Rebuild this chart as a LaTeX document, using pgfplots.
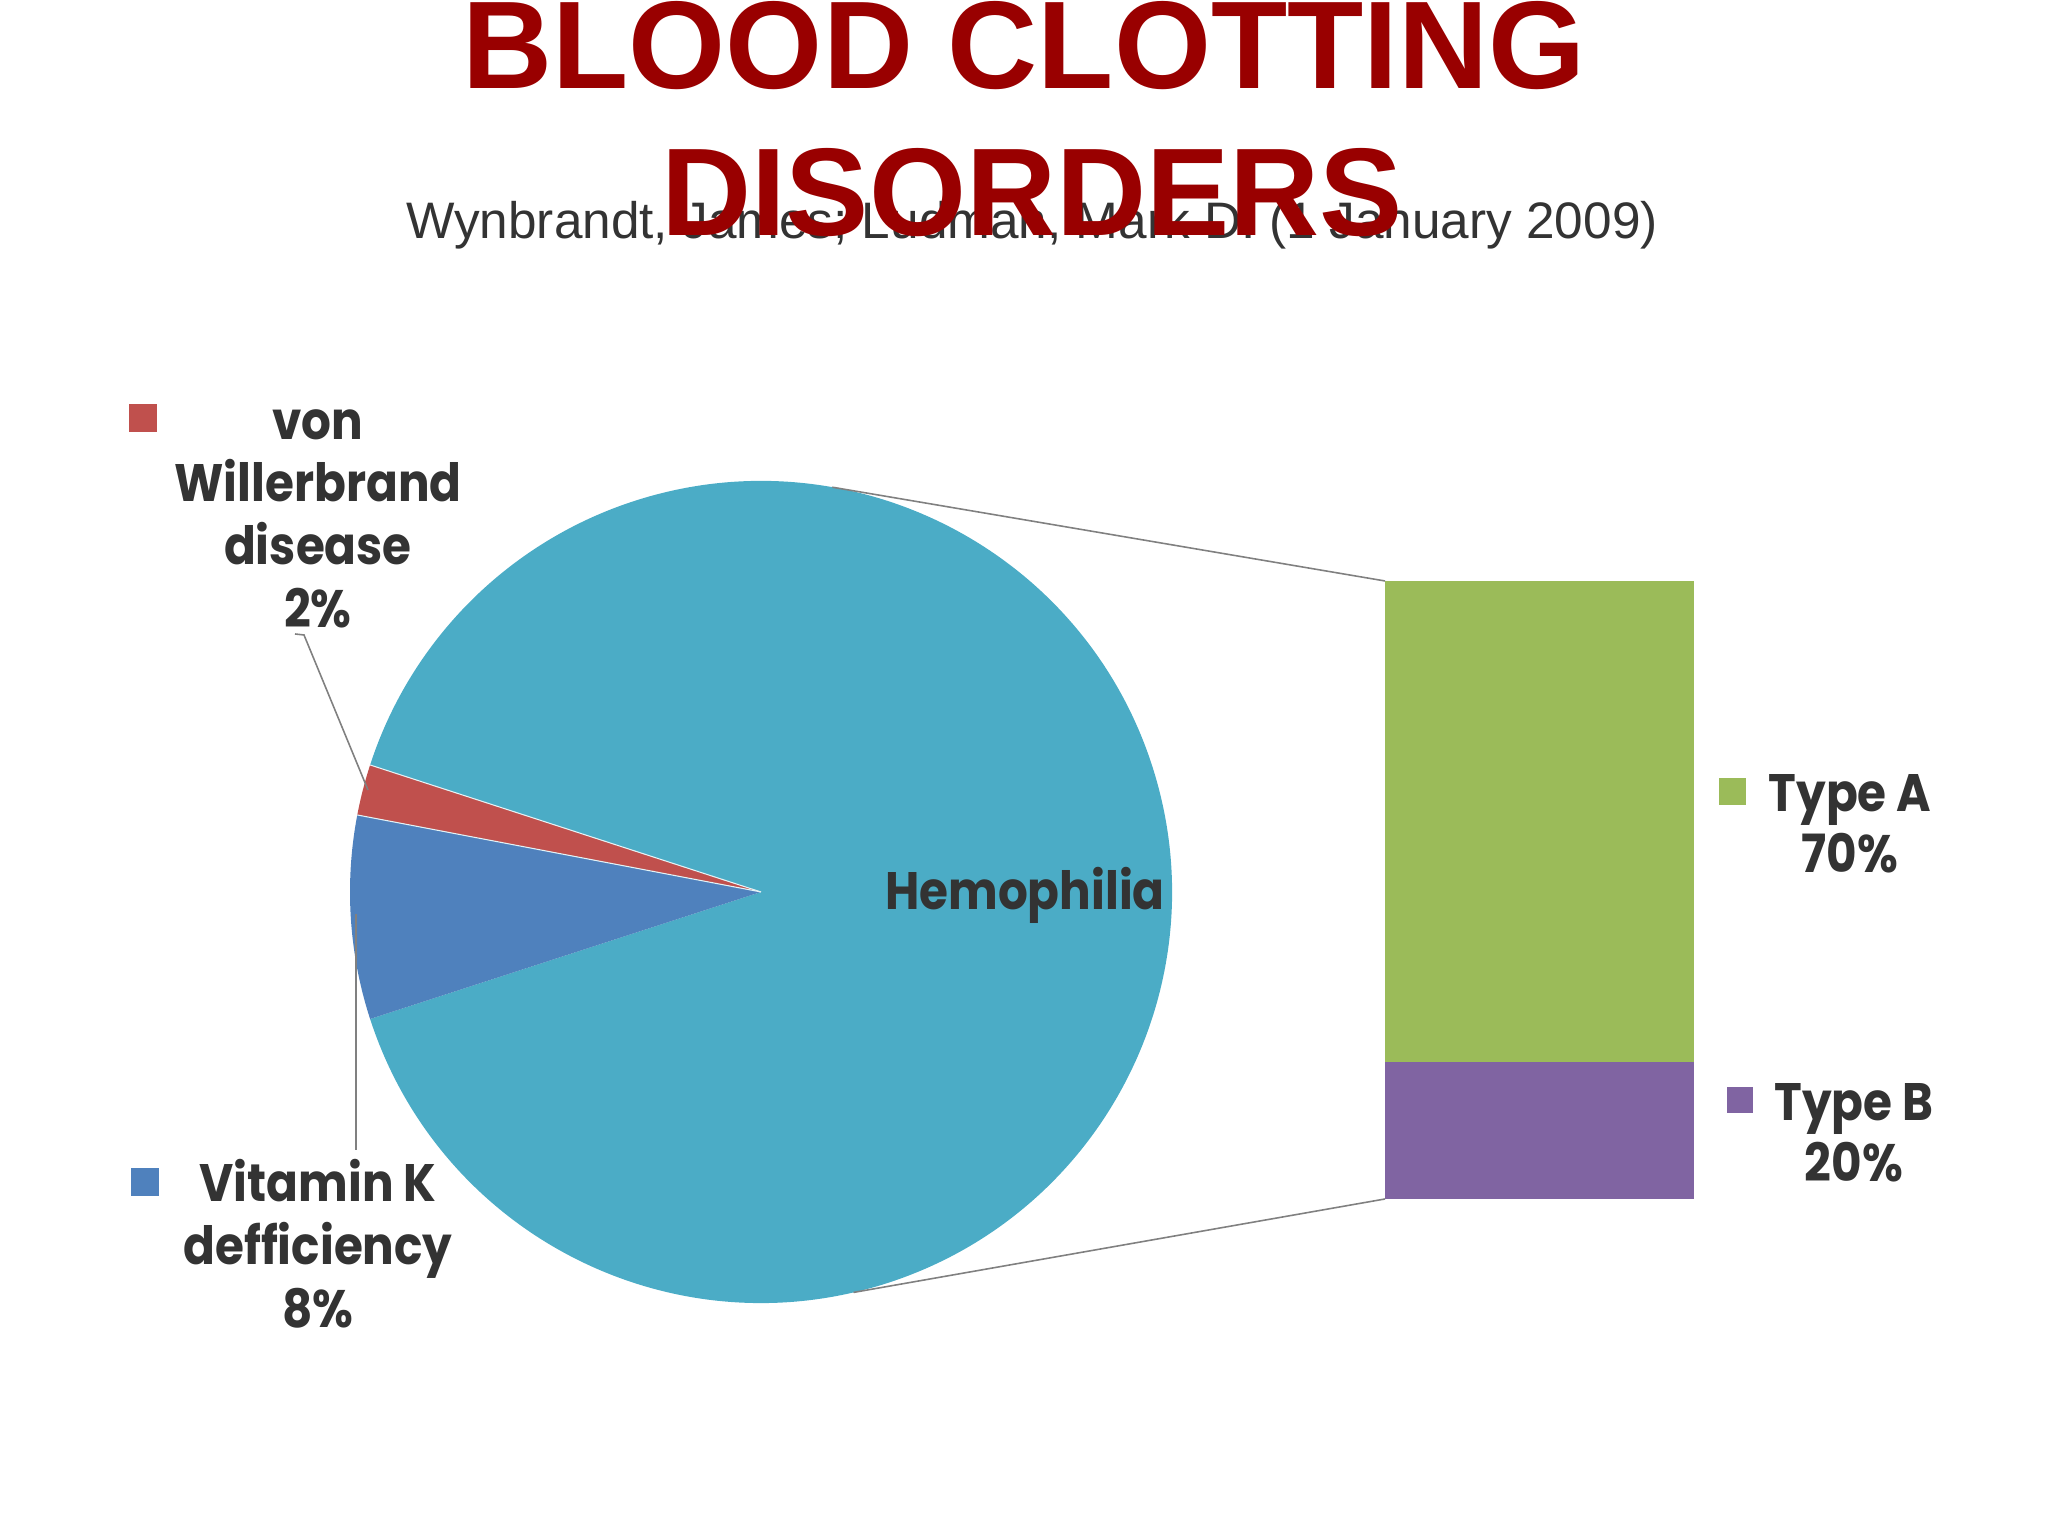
\documentclass[border=0pt]{standalone}
\usepackage{fontspec}
\setmainfont{Poppins}
\newfontfamily\arial{Liberation Sans}
\usepackage{pgfplots}
\usepackage{pgfplotstable}
\pgfplotsset{compat=1.18}

\definecolor{hemo}{HTML}{4BACC6}
\definecolor{vwd}{HTML}{C0504D}
\definecolor{vitk}{HTML}{4F81BD}
\definecolor{typea}{HTML}{9BBB59}
\definecolor{typeb}{HTML}{8064A2}
\definecolor{titlered}{HTML}{990000}
\definecolor{txt}{HTML}{333333}
\definecolor{leader}{HTML}{808080}

% share of all clotting disorders, percent
\pgfplotstableread{
name       value
Hemophilia 90
vWD        2
VitK       8
}\piedata

\pgfplotstablegetelem{0}{value}\of\piedata \let\vHemo\pgfplotsretval
\pgfplotstablegetelem{1}{value}\of\piedata \let\vVwd\pgfplotsretval
\pgfplotstablegetelem{2}{value}\of\piedata \let\vVitk\pgfplotsretval
% hemophilia slice is centred on the right, the others follow counter-clockwise
\pgfmathsetmacro\aA{-\vHemo*3.6/2}
\pgfmathsetmacro\aB{\vHemo*3.6/2}
\pgfmathsetmacro\aC{\aB+\vVwd*3.6}
\pgfmathsetmacro\aD{\aC+\vVitk*3.6}

\tikzset{lab/.style={text=txt,font=\bfseries\fontsize{15}{18}\selectfont\addfontfeature{FakeStretch=0.89},anchor=base,inner sep=0pt}}

\begin{document}
\begin{tikzpicture}
\useasboundingbox (0,0) rectangle (20.48cm,15.36cm);
\begin{axis}[
  at={(0,0)}, anchor=south west,
  width=20.48cm, height=15.36cm, scale only axis,
  xmin=0, xmax=2048, ymin=0, ymax=1536,
  hide axis, clip=false,
]
% pie, centre (761,644), radius 411 units = 4.11cm
\fill[hemo] (axis cs:761,644) -- ++(\aA:4.11cm) arc[start angle=\aA, end angle=\aB, radius=4.11cm] -- cycle;
\fill[vwd]  (axis cs:761,644) -- ++(\aB:4.11cm) arc[start angle=\aB, end angle=\aC, radius=4.11cm] -- cycle;
\fill[vitk] (axis cs:761,644) -- ++(\aC:4.11cm) arc[start angle=\aC, end angle=\aD, radius=4.11cm] -- cycle;
\draw[white!85!hemo, line width=0.3pt] (axis cs:761,644) -- ++(\aB:4.11cm);
\draw[white!85!hemo, line width=0.3pt] (axis cs:761,644) -- ++(\aC:4.11cm);

% connector lines to the bar
\draw[leader, line width=0.45pt] (axis cs:761,644) ++(80:4.11cm) -- (axis cs:1385,955);
\draw[leader, line width=0.45pt] (axis cs:761,644) ++(-77:4.11cm) -- (axis cs:1385,337);

% leader lines
\draw[leader, line width=0.45pt] (axis cs:295,902) -- (axis cs:304,901) -- (axis cs:368,746);
\draw[leader, line width=0.45pt] (axis cs:356,622) -- (axis cs:356,386);

% title and source
\node[anchor=base, inner sep=0pt, text=txt, font=\arial\fontsize{14.6}{18}\selectfont]
  at (axis cs:1032,1297) {Wynbrandt, James; Ludman, Mark D. (1 January 2009)};
\node[anchor=base, inner sep=0pt, text=titlered, font=\arial\bfseries\fontsize{35.5}{44}\selectfont]
  at (axis cs:1024,1447) {BLOOD CLOTTING};
\node[anchor=base, inner sep=0pt, text=titlered, font=\arial\bfseries\fontsize{35.5}{44}\selectfont]
  at (axis cs:1032,1300) {DISORDERS};

% labels
\node[lab] at (axis cs:1025,626) {Hemophilia};

\fill[vwd] (axis cs:129,1132) rectangle (axis cs:157,1104);
\node[lab] at (axis cs:318,1096) {von};
\node[lab] at (axis cs:318,1034) {Willerbrand};
\node[lab] at (axis cs:318,971) {disease};
\node[lab] at (axis cs:318,908) {2\%};

\fill[vitk] (axis cs:131,368) rectangle (axis cs:159,340);
\node[lab] at (axis cs:318,334) {Vitamin K};
\node[lab] at (axis cs:318,271) {defficiency};
\node[lab] at (axis cs:318,208) {8\%};

\fill[typea] (axis cs:1719,758) rectangle (axis cs:1746,731);
\node[lab] at (axis cs:1850,724) {Type A};
\node[lab] at (axis cs:1850,663) {70\%};

\fill[typeb] (axis cs:1727,449) rectangle (axis cs:1753,423);
\node[lab] at (axis cs:1854,415) {Type B};
\node[lab] at (axis cs:1854,354) {20\%};
\end{axis}

% split of the hemophilia slice, percent
\begin{axis}[
  at={(13.85cm,3.37cm)}, anchor=south west,
  width=3.09cm, height=6.18cm, scale only axis,
  xmin=0, xmax=1, ymin=0, ymax=90,
  ybar stacked, bar width=3.09cm, hide axis,
]
\addplot[fill=typeb, draw=none] coordinates {(0.5,20)};
\addplot[fill=typea, draw=none] coordinates {(0.5,70)};
\end{axis}
\end{tikzpicture}
\end{document}
